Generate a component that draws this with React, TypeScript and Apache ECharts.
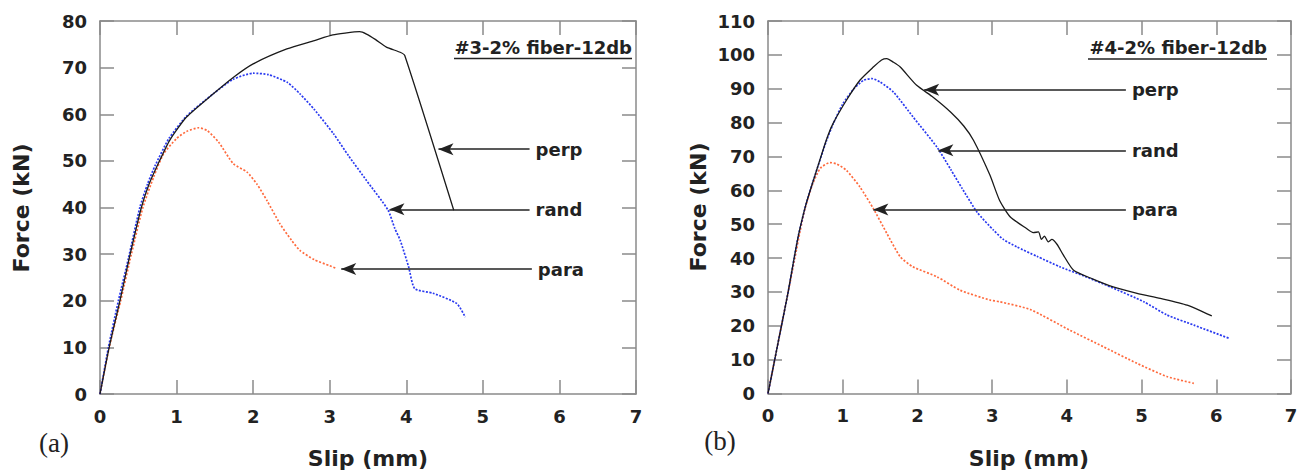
import React, { useEffect, useRef } from "react";
import * as echarts from "echarts";

// ---- Data (Slip mm, Force kN) ----
const leftPerp: number[][] = [
  [0, 0], [0.12, 10], [0.26, 20], [0.38, 29], [0.54, 40], [0.64, 45], [0.74, 48.7], [0.91, 54.4],
  [1.13, 59.4], [1.48, 64.4], [1.74, 67.9], [2.0, 70.8], [2.44, 74], [2.8, 75.8], [3.04, 77.0],
  [3.2, 77.4], [3.39, 77.7], [3.48, 77.2], [3.6, 76], [3.74, 74.4], [3.92, 73.3], [3.98, 72.6],
  [4.62, 39.4],
];
const leftRand: number[][] = [
  [0, 0], [0.11, 10], [0.24, 20], [0.37, 29], [0.52, 40], [0.62, 45], [0.72, 49], [0.9, 54.8],
  [1.13, 59.6], [1.48, 64.4], [1.74, 67.5], [2.0, 68.8], [2.2, 68.5], [2.45, 66.8], [2.61, 64.4],
  [2.8, 61], [3.05, 55.8], [3.25, 51], [3.48, 45.8], [3.76, 39.5], [3.85, 35.5], [3.92, 33],
  [4.03, 27.3], [4.11, 22.6], [4.35, 21.6], [4.66, 19.4], [4.77, 16.5],
];
const leftPara: number[][] = [
  [0, 0], [0.12, 10], [0.27, 20], [0.41, 30], [0.56, 40], [0.7, 46.5], [0.83, 51.5], [1.0, 54.8],
  [1.13, 56.3], [1.29, 57.1], [1.4, 56.5], [1.55, 54], [1.74, 49.4], [1.92, 47.6], [2.05, 45],
  [2.18, 41.5], [2.35, 36.5], [2.5, 33], [2.61, 30.8], [2.8, 28.8], [3.0, 27.5], [3.09, 26.9],
];

const rightPerp: number[][] = [
  [0, 0], [0.09, 10], [0.18, 20], [0.27, 30], [0.35, 40], [0.41, 47], [0.51, 56], [0.63, 64.5],
  [0.78, 74.8], [0.87, 79.7], [1.05, 86.6], [1.23, 92.5], [1.41, 96.4], [1.52, 98.5],
  [1.59, 98.9], [1.68, 97.8], [1.77, 96.4], [1.99, 91], [2.21, 87.5], [2.45, 83], [2.62, 79],
  [2.75, 74.8], [2.97, 64.5], [3.1, 57], [3.24, 52.2], [3.46, 48.7], [3.55, 47.5], [3.62, 47.7],
  [3.66, 45.5], [3.7, 46.5], [3.75, 44.8], [3.8, 45.5], [3.87, 44], [3.95, 41], [4.09, 36.4],
  [4.35, 33.8], [4.62, 31.5], [4.94, 29.6], [5.25, 28.1], [5.61, 26.1], [5.94, 22.9],
];
const rightRand: number[][] = [
  [0, 0], [0.09, 10], [0.18, 20], [0.27, 30], [0.35, 40], [0.41, 47], [0.51, 56], [0.63, 64.5],
  [0.78, 74.5], [0.87, 79.5], [1.0, 85.5], [1.15, 90], [1.28, 92.5], [1.39, 93], [1.5, 92],
  [1.68, 89], [1.94, 81.7], [2.26, 72.8], [2.45, 66], [2.6, 60.5], [2.8, 53.5], [3.02, 48.2],
  [3.15, 45.5], [3.33, 43.3], [3.6, 40.5], [3.91, 37.4], [4.25, 34.5], [4.58, 31.5],
  [5.03, 27.1], [5.34, 23.2], [5.7, 20.2], [6.17, 16.3],
];
const rightPara: number[][] = [
  [0, 0], [0.09, 10], [0.18, 20], [0.27, 30], [0.36, 40], [0.43, 48], [0.5, 55], [0.6, 62],
  [0.7, 66.5], [0.83, 68.2], [0.92, 67.8], [1.05, 65.9], [1.23, 61], [1.41, 54.6], [1.59, 47.3],
  [1.77, 40.4], [1.94, 37.4], [2.26, 34.5], [2.57, 30.5], [2.97, 27.6], [3.1, 27.1],
  [3.51, 24.8], [4.04, 18.7], [4.49, 13.8], [4.94, 8.9], [5.34, 5.0], [5.7, 3.0],
];

// arrows: [label, tipX, y, tailX]
const leftArrows: [string, number, number, number][] = [
  ["perp", 4.42, 52.5, 5.61],
  ["rand", 3.78, 39.6, 5.61],
  ["para", 3.15, 26.8, 5.64],
];
const rightArrows: [string, number, number, number][] = [
  ["perp", 2.09, 89.7, 4.79],
  ["rand", 2.28, 71.8, 4.79],
  ["para", 1.41, 54.3, 4.79],
];

const xTicks = { min: 0, max: 7, interval: 1 };
const leftY = { min: 0, max: 80, interval: 10 };
const rightY = { min: 0, max: 110, interval: 10 };
const panelTitles = ["#3-2% fiber-12db", "#4-2% fiber-12db"];
const panelTags = ["(a)", "(b)"];
const xName = "Slip (mm)";
const yName = "Force (kN)";

const FONT = "DejaVu Sans";
const FRAME = "#8a8a8a";
const TXT = "#222";

function App() {
  const ref = useRef<HTMLDivElement>(null);
  useEffect(() => {
    if (!ref.current) return;
    const chart = echarts.init(ref.current, null, { renderer: "svg" });

    const axLine = { show: true, onZero: false, lineStyle: { color: FRAME, width: 1.5 } };
    const tick = { show: true, inside: true, length: 14, lineStyle: { color: FRAME, width: 1.5 } };
    const lbl = { fontSize: 18, fontWeight: "bold", fontFamily: FONT, color: TXT };

    const mkX = (grid: number, pos: "bottom" | "top") => ({
      type: "value", gridIndex: grid, position: pos, ...xTicks,
      axisLine: axLine, axisTick: tick, splitLine: { show: false },
      axisLabel: pos === "bottom" ? { ...lbl, margin: 13 } : { show: false },
    });
    const mkY = (grid: number, pos: "left" | "right", r: any) => ({
      type: "value", gridIndex: grid, position: pos, ...r,
      axisLine: axLine, axisTick: tick, splitLine: { show: false },
      axisLabel: pos === "left" ? { ...lbl, margin: 13 } : { show: false },
    });

    const arrowMark = (arr: [string, number, number, number][]) => ({
      silent: true,
      animation: false,
      symbol: ["arrow", "none"],
      symbolSize: [9, 15],
      lineStyle: { color: TXT, width: 1.6, type: "solid" },
      label: {
        show: true, position: "end", distance: 6,
        formatter: (p: any) => p.name, ...lbl,
      },
      emphasis: { disabled: true },
      data: arr.map(([n, tx, y, ex]) => [
        { coord: [tx, y], name: n },
        { coord: [ex, y] },
      ]),
    });

    const curve = (data: number[][], grid: number, kind: string) => {
      const styles: any = {
        perp: { color: "#1a1a1a", width: 1.3, type: "solid" },
        rand: { color: "#2a3af0", width: 1.7, type: [2, 1.5] },
        para: { color: "#ff6a3d", width: 1.7, type: [2, 1.8] },
      };
      return {
        type: "line", name: kind, data, xAxisIndex: grid * 2, yAxisIndex: grid * 2,
        showSymbol: false, smooth: 0.2, lineStyle: styles[kind],
        itemStyle: { color: styles[kind].color }, silent: true,
      };
    };

    const series: any[] = [
      curve(leftPara, 0, "para"),
      curve(leftRand, 0, "rand"),
      { ...curve(leftPerp, 0, "perp"), markLine: arrowMark(leftArrows) },
      curve(rightPara, 1, "para"),
      curve(rightRand, 1, "rand"),
      { ...curve(rightPerp, 1, "perp"), markLine: arrowMark(rightArrows) },
    ];

    const nameStyle = { fontSize: 22, fontWeight: "bold", fontFamily: FONT, fill: TXT };
    const tagStyle = { fontSize: 27, fontFamily: "Liberation Serif", fill: TXT };
    const titleStyle = { fontSize: 18, fontWeight: "bold", fontFamily: FONT, fill: TXT };

    const graphic: any[] = [
      { type: "text", x: 21, y: 208, rotation: Math.PI / 2, style: { text: yName, align: "center", verticalAlign: "middle", ...nameStyle } },
      { type: "text", x: 698, y: 207, rotation: Math.PI / 2, style: { text: yName, align: "center", verticalAlign: "middle", ...nameStyle } },
      { type: "text", x: 368, y: 458, style: { text: xName, align: "center", verticalAlign: "middle", ...nameStyle } },
      { type: "text", x: 1029, y: 458, style: { text: xName, align: "center", verticalAlign: "middle", ...nameStyle } },
      { type: "text", x: 54, y: 443, style: { text: panelTags[0], align: "center", verticalAlign: "middle", ...tagStyle } },
      { type: "text", x: 720, y: 441, style: { text: panelTags[1], align: "center", verticalAlign: "middle", ...tagStyle } },
      { type: "text", x: 632, y: 47, style: { text: panelTitles[0], align: "right", verticalAlign: "middle", ...titleStyle } },
      { type: "line", shape: { x1: 454, y1: 58.5, x2: 632, y2: 58.5 }, style: { stroke: TXT, lineWidth: 1.3 } },
      { type: "text", x: 1267, y: 47, style: { text: panelTitles[1], align: "right", verticalAlign: "middle", ...titleStyle } },
      { type: "line", shape: { x1: 1088, y1: 59, x2: 1267, y2: 59 }, style: { stroke: TXT, lineWidth: 1.3 } },
    ];

    chart.setOption({
      animation: false,
      backgroundColor: "#ffffff",
      grid: [
        { left: 100, top: 21, width: 536, height: 373 },
        { left: 768, top: 21, width: 523, height: 372.5 },
      ],
      xAxis: [mkX(0, "bottom"), mkX(0, "top"), mkX(1, "bottom"), mkX(1, "top")],
      yAxis: [mkY(0, "left", leftY), mkY(0, "right", leftY), mkY(1, "left", rightY), mkY(1, "right", rightY)],
      series,
      graphic,
    });
    return () => chart.dispose();
  }, []);
  return (
    <div
      ref={ref}
      style={{ position: "fixed", left: 0, top: 0, width: 1309, height: 474, background: "#fff" }}
    />
  );
}

export default App;
